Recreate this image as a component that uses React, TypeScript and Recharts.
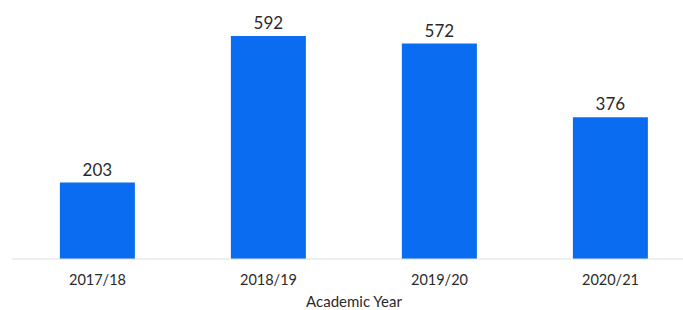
import { BarChart, Bar, XAxis, YAxis, LabelList } from 'recharts';

const years = ['2017/18', '2018/19', '2019/20', '2020/21'];
const counts = [203, 592, 572, 376];

const FONT = 'Lato, "Noto Sans", sans-serif';

export default function App() {
  const data = years.map((year, i) => ({ year, count: counts[i] }));

  return (
    <div style={{ position: 'absolute', left: 0, top: 0, width: 683, height: 310, overflow: 'hidden', background: '#fff' }}>
      <BarChart
        width={696}
        height={310}
        data={data}
        margin={{ top: 33, right: 0, bottom: 0, left: 12 }}
        barCategoryGap="28%"
      >
        <XAxis
          dataKey="year"
          axisLine={{ stroke: '#dddddd' }}
          tickLine={false}
          tickMargin={10}
          height={51}
          tick={{ fill: '#2a2a2a', fontSize: 14.5, fontFamily: FONT }}
          label={{ value: 'Academic Year', position: 'insideBottom', offset: 3, fill: '#2a2a2a', fontSize: 15, fontFamily: FONT }}
        />
        <YAxis hide domain={[0, 600]} />
        <Bar dataKey="count" fill="#0a6cf0" isAnimationActive={false}>
          <LabelList dataKey="count" position="top" offset={7} fill="#2a2a2a" fontSize={17} fontFamily={FONT} />
        </Bar>
      </BarChart>
    </div>
  );
}
